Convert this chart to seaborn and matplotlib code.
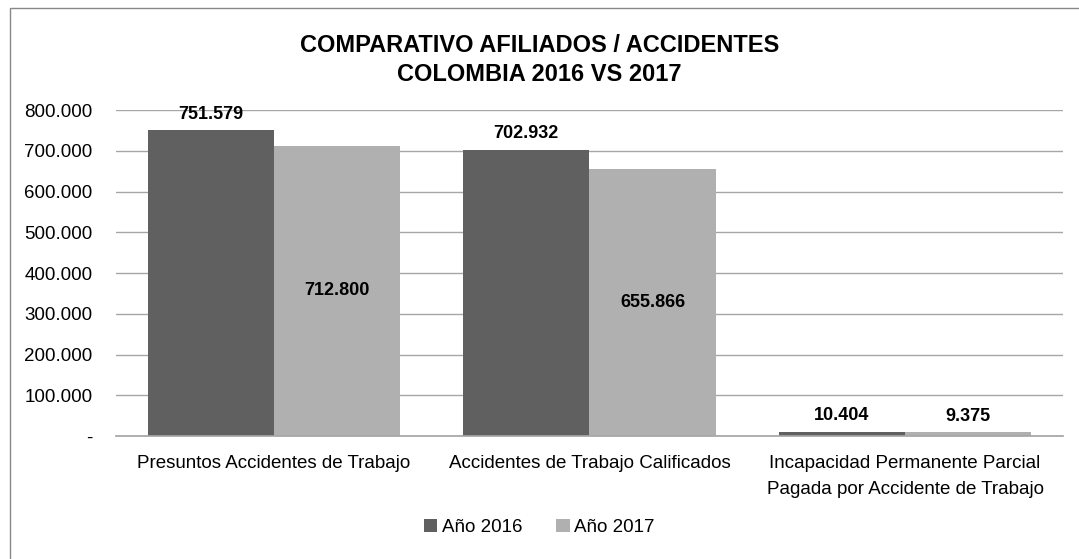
import pandas as pd
import matplotlib.pyplot as plt
import seaborn as sns
from matplotlib.patches import Rectangle

categorias = [
    "Presuntos Accidentes de Trabajo",
    "Accidentes de Trabajo Calificados",
    "Incapacidad Permanente Parcial\nPagada por Accidente de Trabajo",
]
anio_2016 = [751579, 702932, 10404]
anio_2017 = [712800, 655866, 9375]
series = ["Año 2016", "Año 2017"]
colores = ["#606060", "#b0b0b0"]


def fmt(v):
    return f"{v:,.0f}".replace(",", ".")


def main():
    sns.set_theme(style="white")
    plt.rcParams["font.family"] = ["Liberation Sans", "DejaVu Sans"]
    plt.rcParams["text.color"] = "black"
    plt.rcParams["xtick.color"] = "black"
    plt.rcParams["ytick.color"] = "black"

    tabla = pd.DataFrame({
        "categoria": categorias * 2,
        "valor": anio_2016 + anio_2017,
        "serie": [series[0]] * 3 + [series[1]] * 3,
    })

    fig = plt.figure(figsize=(10.79, 5.59), dpi=100)
    ax = fig.add_axes([0.1075, 0.22, 0.8775, 0.583])

    sns.barplot(data=tabla, x="categoria", y="valor", hue="serie",
                palette=colores, width=0.8, gap=0, saturation=1,
                linewidth=0, ax=ax, legend=True)

    ax.set_ylim(0, 800000)
    ax.set_yticks(range(0, 800001, 100000))
    ax.set_yticklabels(["-"] + [fmt(v) for v in range(100000, 800001, 100000)],
                       fontsize=13.5)
    ax.yaxis.grid(True, color="#a6a6a6", linewidth=1)
    ax.set_axisbelow(True)
    ax.tick_params(axis="y", length=0, pad=17)
    ax.tick_params(axis="x", length=0, labelsize=13.5, pad=14)
    for lbl in ax.get_xticklabels():
        lbl.set_linespacing(1.65)
    ax.set_xlabel("")
    ax.set_ylabel("")
    for lado in ["top", "right", "left"]:
        ax.spines[lado].set_visible(False)
    ax.spines["bottom"].set_color("#a6a6a6")

    # Etiquetas de datos
    for i, cont in enumerate(ax.containers):
        for barra in cont:
            v = barra.get_height()
            x = barra.get_x() + barra.get_width() / 2
            if i == 1 and v > 100000:
                ax.text(x, v / 2, fmt(v), ha="center", va="center",
                        fontsize=13, fontweight="bold")
            else:
                ax.text(x, v + 18000, fmt(v), ha="center", va="bottom",
                        fontsize=13, fontweight="bold")

    ax.legend(loc="center", bbox_to_anchor=(0.5, 0.057),
              bbox_transform=fig.transFigure, ncol=2, frameon=False,
              fontsize=13.5, handlelength=0.7, handleheight=0.7,
              handletextpad=0.25, columnspacing=1.8)

    fig.text(0.5, 0.893, "COMPARATIVO AFILIADOS / ACCIDENTES\nCOLOMBIA 2016 VS 2017",
             ha="center", va="center", fontsize=17, fontweight="bold",
             linespacing=1.35)

    fig.patches.append(Rectangle((0.009, -0.01), 1.0, 0.995,
                                 transform=fig.transFigure, fill=False,
                                 edgecolor="#888888", linewidth=1))

    fig.savefig("out.png", dpi=100)
    plt.close(fig)


if __name__ == "__main__":
    main()
